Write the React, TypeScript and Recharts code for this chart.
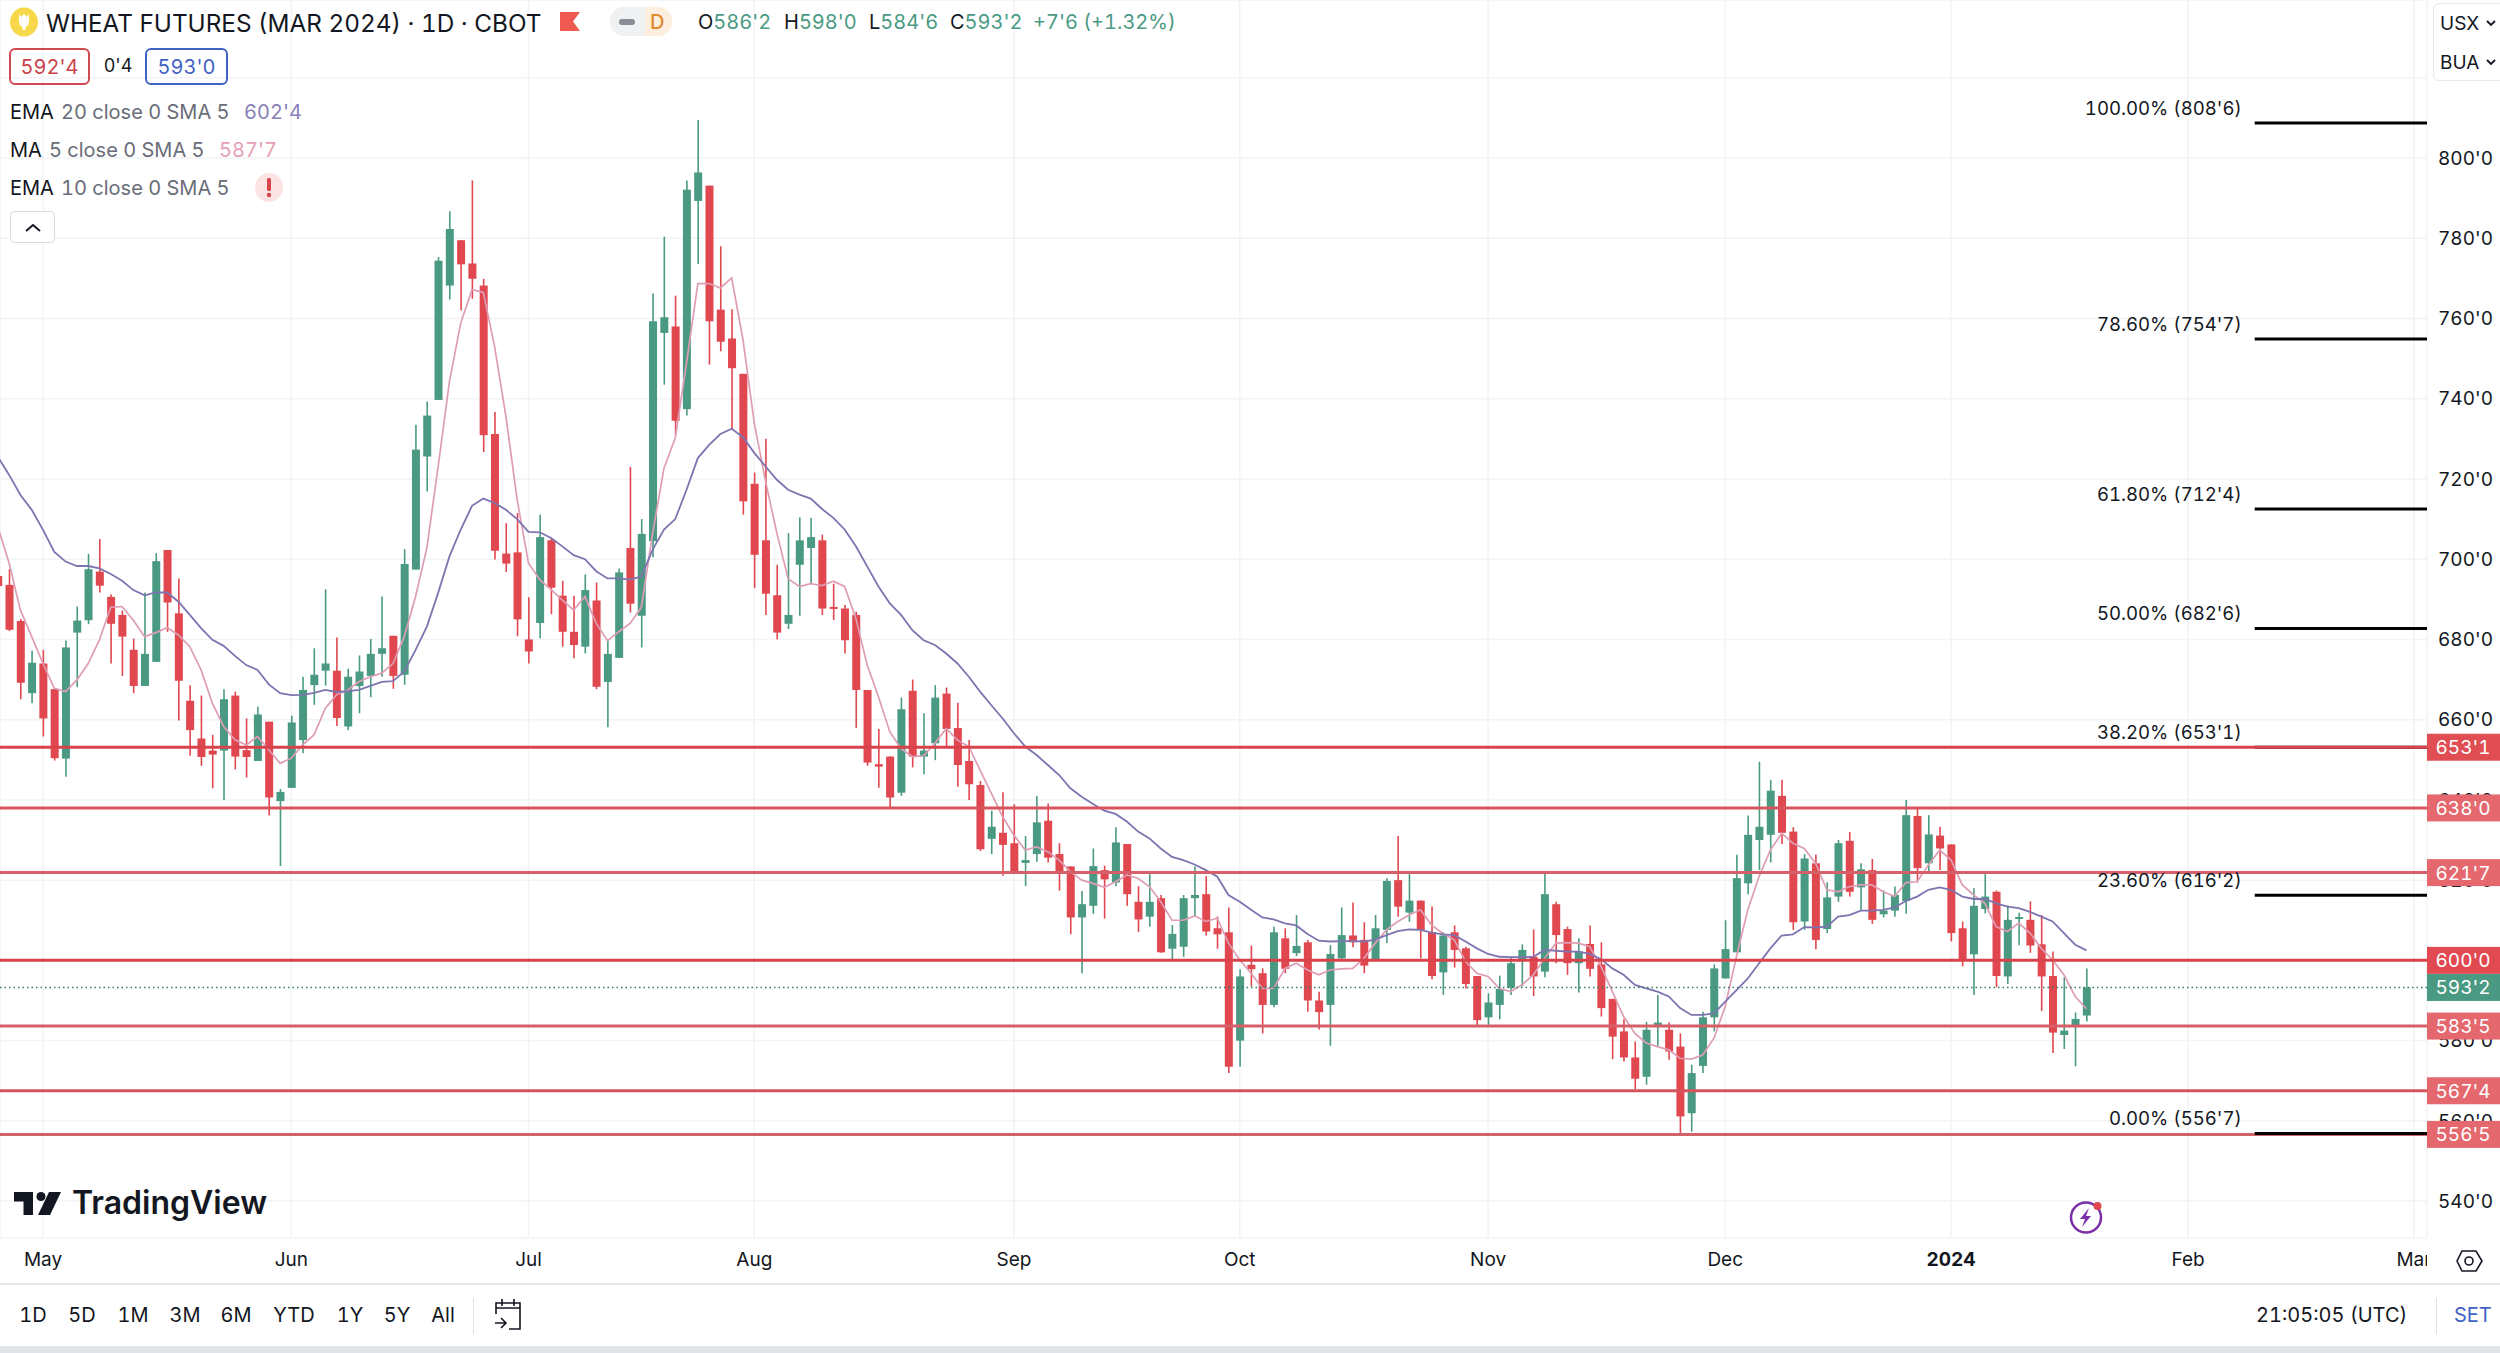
import React from 'react'
import { ComposedChart, Bar, Line, XAxis, YAxis, CartesianGrid, ReferenceLine } from 'recharts'

const FIRST_BAR = -4

const opens = [
  695.8, 693.6, 684.6, 666.6,
  674, 667.6, 650.3, 681.7, 684.8, 696.9, 690.6, 686.1, 677.4, 668.4,
  674.4, 702.3, 686.5, 664.7, 655.3, 652.3, 652.3, 666, 652.4, 649.7,
  659.5, 639.7, 643, 654.9, 668.6, 672.2, 672.2, 658.3, 668.4, 670.9,
  676.4, 680.9, 671.2, 697.4, 725.6, 739.7, 768.2, 779.5, 773.7, 768.2,
  731.2, 701.4, 701.7, 680, 684.1, 704.7, 690.9, 681.9, 678.2, 689.7,
  669.4, 675.4, 702.8, 685.9, 704.5, 756.4, 758, 737.4, 789.3, 793.1,
  762.2, 755, 746.2, 718.8, 704.7, 691, 683.9, 698.6, 702.8, 704.7,
  688.1, 687.7, 686.1, 667.4, 648.9, 650.8, 641.8, 667.2, 650.8, 654.1,
  666.5, 657.9, 649.7, 643.7, 630.3, 631.8, 629.2, 624.3, 626.5, 634.8,
  626.5, 623.4, 610.7, 613.6, 622.5, 619.4, 629, 614.6, 610.9, 615.5,
  602.9, 603.4, 615.5, 616.5, 608, 607, 580, 598.9, 596.8, 588.9,
  605.5, 601.8, 604.5, 590, 588.9, 600.5, 606.2, 605.1, 600.1, 607.6,
  620, 611.9, 614.9, 607, 597, 607, 603, 596.1, 585.8, 588.9,
  593.2, 600.1, 600.9, 597.2, 614, 607.8, 599.3, 604.1, 599, 590.4,
  582.3, 575.8, 571, 583.9, 582.7, 578.5, 561.9, 573.7, 585.8, 595.5,
  602, 619.2, 630, 631.3, 641, 632.1, 609.7, 624.2, 607.8, 615.9,
  629.8, 618.2, 622.5, 611.5, 612.4, 614.8, 636, 624.2, 631.1, 628.9,
  608, 601.5, 612.8, 617.1, 596, 610.3, 610.1, 604, 596.1, 581.4,
  583.5, 586.25,
]

const highs = [
  697, 697.5, 685.1, 677.2,
  677.4, 667.8, 679.7, 688.2, 701.3, 705, 691.2, 687.2, 680.2, 691.7,
  701.5, 702.3, 695.2, 668.6, 666, 656.2, 667.6, 667, 660.3, 663.2,
  659.5, 642.7, 661, 670.7, 677.8, 692.5, 680.5, 672.7, 676, 680.1,
  690.7, 680.9, 702.5, 733.5, 739.3, 775.3, 786.7, 779.5, 794.4, 769.9,
  736.7, 709, 711.5, 690.5, 711.1, 705.3, 694.6, 690.9, 696.2, 694.2,
  679.9, 697.7, 723, 710, 766.2, 780.4, 765.7, 794.4, 809.5, 793.1,
  778, 762.3, 746.2, 721.6, 730, 698.6, 706.5, 710.4, 710.3, 706.1,
  693.9, 688.6, 686.9, 667.4, 657.7, 650.9, 665.5, 670, 661.6, 668.6,
  668, 664.2, 654.9, 644.7, 637.3, 641.9, 638.9, 631, 641, 639.1,
  629.2, 623.4, 617.3, 627.9, 623.6, 633.2, 629, 618.5, 621.5, 616.3,
  608.8, 616.3, 623.4, 621, 610.9, 613.2, 597.8, 603.7, 598, 608.4,
  608, 611.3, 605.1, 592.2, 603.8, 613.2, 614.4, 609.5, 611.3, 620.5,
  631, 621.5, 614.9, 613.4, 607, 608.7, 603.4, 596.1, 591.8, 596.2,
  600.9, 604, 607.7, 621.9, 614.6, 608.4, 605.5, 608.7, 604.5, 590.4,
  585.3, 579.8, 584.7, 591.4, 584.5, 581.8, 574, 587.2, 599, 610,
  626.3, 636.1, 649.5, 645, 645, 633.2, 626.5, 626.4, 619.5, 630,
  632, 624.2, 625.3, 617.4, 618.4, 640, 637.9, 636.2, 633.3, 628.9,
  609.7, 618, 621.5, 617.4, 613.7, 611.9, 614.7, 611.3, 602.2, 595.8,
  587, 598,
]

const lows = [
  692, 682.1, 665.1, 664.1,
  655.8, 649.8, 645.8, 668.1, 683.8, 691.7, 674, 670.9, 666.6, 668.4,
  674.4, 681.9, 659.8, 651, 648.5, 642.9, 640, 647.6, 645.6, 649.7,
  636.1, 623.5, 643, 651.6, 663.7, 668.5, 658.4, 657.4, 661.6, 665.6,
  670.7, 667.7, 668.7, 697.4, 716.9, 739.7, 764.7, 762, 764.9, 726.7,
  699.9, 696.8, 680.8, 674, 680.3, 686.3, 678.2, 675.3, 676.5, 667.6,
  658.1, 675.4, 686.7, 678, 700.5, 743.5, 731, 735.8, 773.6, 748.5,
  751.8, 732.3, 711.1, 692.8, 686.1, 680, 682.6, 685.9, 693.9, 686.1,
  684.8, 676.5, 657.9, 648.5, 643, 638.1, 641, 648.1, 646.4, 649.9,
  653.3, 643.3, 640, 627.3, 626.5, 621.1, 621.7, 618.5, 624.6, 624.4,
  617.4, 606.5, 596.8, 611.6, 610.4, 618.5, 613.6, 607.1, 608.4, 601.9,
  600.3, 600.9, 610.9, 606.2, 602.9, 571.9, 573.5, 593.5, 581.8, 588.3,
  596.8, 601.1, 587.2, 582.8, 578.7, 599.9, 603.3, 596.8, 600.1, 604.3,
  610.9, 609.6, 600.5, 595.3, 591.4, 598.2, 593, 583.5, 583.5, 585.3,
  591.4, 593.5, 591.1, 595.8, 599.3, 596.4, 592, 596, 586, 575.4,
  574.8, 567.9, 569, 578.7, 575.2, 556.8, 557.3, 571.9, 582.3, 595.5,
  602, 616.5, 622.5, 624.4, 629, 607.6, 607.6, 602.8, 606.8, 614.6,
  615.9, 612.6, 609.1, 610.7, 610.9, 611.6, 619.4, 621.7, 622.5, 604.7,
  598.5, 591.4, 611.7, 593.3, 594.1, 603.8, 601.9, 587.4, 576.9, 577.9,
  573.6, 584.75,
]

const closes = [
  693.3, 682.4, 669.2, 674.2,
  660.3, 650.4, 678, 684.7, 697.5, 693.4, 683.9, 680.7, 668.4, 676.4,
  699.5, 689.2, 669.7, 657.4, 650.7, 651.3, 665.1, 650.8, 650.7, 661.3,
  640.6, 642, 659.3, 667.4, 671.2, 674, 660.4, 670.7, 672, 676.4,
  677.8, 670.9, 698.8, 727.3, 735.8, 774.4, 782.3, 773.5, 769.9, 730.9,
  702.1, 698.9, 685, 677, 705.5, 692.9, 681.9, 678.6, 692.3, 668.2,
  676.4, 696.7, 688.9, 706.3, 759.3, 760.3, 734.5, 792.1, 796.4, 759.3,
  754.2, 747.6, 714.4, 701.1, 691.4, 681.7, 686.1, 704.7, 705.5, 687.7,
  687.9, 679.8, 667.4, 649.3, 648.3, 640.6, 662.6, 650.8, 652.3, 665.5,
  657.7, 648.7, 643.9, 627.7, 633.3, 628.8, 621.7, 625, 634.4, 625.6,
  621.7, 610.7, 614, 623.5, 620.2, 629.4, 616.5, 610.2, 614.6, 602,
  606.6, 615.5, 616.3, 607.2, 606.5, 573.5, 596, 597.8, 588.9, 607,
  597.9, 603.6, 590, 587.1, 601.6, 606.3, 604.5, 598.7, 608, 619.8,
  613.4, 614.9, 607.6, 596.1, 606.2, 602.6, 594.1, 585.1, 589.5, 592.9,
  599.3, 602.6, 596, 616.5, 606.3, 599.3, 602.2, 597.9, 588.1, 581,
  575.8, 570.5, 582.7, 584.5, 577.3, 561.1, 571.9, 585.8, 598, 602.8,
  620.5, 631.3, 633.3, 642.3, 631.8, 609.5, 625.4, 605.1, 615.7, 629.2,
  617.1, 622.7, 610.1, 612.4, 616.3, 636.2, 623, 631.4, 627.9, 606.8,
  600, 613.6, 615.9, 596.1, 610.1, 610.8, 603.7, 596, 582, 582.5,
  585.4, 593.25,
]

const ema20 = [
  725.5, 721, 716, 712.3,
  707.3, 701.8, 699.4, 698.3, 698.3, 697.7, 696.3, 694.6, 692.3, 691,
  691.7, 691.7, 689.4, 686.1, 682.8, 679.9, 678.4, 675.9, 673.6, 672.4,
  668.8, 666.6, 666.1, 666.2, 666.7, 667.4, 666.9, 667.1, 667.4, 668.4,
  669.4, 669.6, 672, 677.4, 683.2, 691.6, 700.7, 707.4, 713.3, 715.1,
  714, 712.3, 710, 706.8, 706.7, 705.3, 703.2, 701, 700, 697,
  695.2, 695.2, 694.9, 695.7, 702.4, 707.4, 710, 717.3, 725.2, 728.5,
  731.2, 732.5, 730.4, 726.5, 723.1, 719.8, 717.3, 716.1, 715.1, 712.5,
  710.3, 707.4, 703.2, 698.2, 693.2, 689, 686.1, 682.3, 679.8, 678.6,
  676.5, 674, 670.7, 667, 663.6, 660.3, 656.6, 653.3, 651.2, 648.7,
  646.2, 642.9, 640.8, 639, 637.3, 636.5, 634.6, 632.1, 630.4, 627.9,
  625.8, 625, 623.9, 622.5, 620.9, 616.3, 614.6, 612.6, 610.7, 610.2,
  609.2, 608.7, 606.6, 604.9, 604.7, 604.8, 604.8, 604.7, 605.2, 606.3,
  607.3, 607.7, 607.6, 606.9, 606.5, 606.3, 604.7, 603, 601.6, 600.9,
  600.8, 600.8, 600.9, 602.6, 602.4, 602.2, 602.2, 601.6, 600.3, 598,
  596.4, 593.9, 593, 592.2, 591, 588.1, 586.4, 586.4, 586.8, 589.7,
  592.6, 595.5, 599.3, 603, 606.2, 606.5, 608.3, 608.2, 608.4, 610.9,
  611.3, 612.4, 612.4, 612.6, 613.2, 614.8, 615.9, 617.6, 618.2, 617.6,
  615.9, 615.3, 615.3, 614.2, 613.4, 613, 612.1, 610.9, 609.7, 606.8,
  603.9, 602.5,
]

const ma5 = [
  708, 699, 687.3, 680.7,
  674, 667.8, 667, 669.9, 674, 679.9, 688, 688.2, 684.8, 680.7,
  681.7, 682.9, 681.1, 678.2, 672.4, 664.1, 658.3, 655, 653.7, 655.8,
  652.5, 649.1, 650.4, 653.7, 656.2, 662.8, 666.2, 667.4, 669.5, 670.7,
  671.6, 674, 680.7, 690.7, 702.8, 723.1, 744.3, 758.9, 767.2, 766.5,
  753, 735.6, 714.8, 699, 694.9, 692.4, 689.8, 687.3, 690.7, 684,
  679.7, 681.9, 684, 688, 706.5, 722.7, 730.2, 748.9, 768.7, 768.7,
  767.6, 770.1, 754.7, 733.9, 719.4, 706.5, 695.1, 693.2, 693.9, 693.4,
  694.5, 693.2, 685.2, 673.6, 665.7, 657, 652.8, 650.8, 651, 654.1,
  657.8, 654.9, 653.3, 647.4, 641.6, 635.8, 631.2, 627.5, 628.3, 627.1,
  625, 622.1, 620, 619.2, 618.2, 619.6, 621.3, 620.4, 618.4, 614.6,
  610, 610, 611.1, 609.7, 610.5, 604.3, 600.1, 596.8, 593, 593,
  598, 599.3, 597.6, 596.4, 597.6, 597.9, 598, 600.5, 604.3, 607.6,
  609.7, 611.3, 612.6, 608.8, 606.7, 605.1, 599.7, 596.8, 596, 593,
  592.2, 593.9, 596.4, 600.5, 604.3, 604.4, 604.3, 603.4, 598.5, 592.2,
  586, 581.8, 579.4, 578.5, 577.7, 575.6, 575.4, 576.4, 580.6, 588.5,
  601, 612.6, 620.9, 627.5, 631.7, 629.2, 627.9, 624.2, 617.6, 617.1,
  618.4, 618.8, 618.8, 617.1, 615.9, 619.4, 619.6, 623.8, 627.5, 625,
  618.8, 616.3, 614.2, 608.4, 607.2, 609.3, 606.8, 603, 600.1, 596.4,
  591, 587.9,
]

const priceTicks = [540, 560, 580, 600, 620, 640, 660, 680, 700, 720, 740, 760, 780, 800, 820]
const monthTicks = [0, 22, 43, 63, 86, 106, 128, 149, 169, 190, 210]
const monthLabels = ['May', 'Jun', 'Jul', 'Aug', 'Sep', 'Oct', 'Nov', 'Dec', '2024', 'Feb', 'Mar']

// horizontal drawings
const levelPrices = [653.125, 638, 621.875, 600, 583.625, 567.5, 556.625]
const levelTexts = ["653'1", "638'0", "621'7", "600'0", "583'5", "567'4", "556'5"]
const levelLines = ['#d8434b', '#d8555d', '#d5606a', '#d8434b', '#d5606a', '#d5545c', '#d2626a']
const levelTags = ['#e04e54', '#e4686e', '#e4686e', '#e04a50', '#e4686e', '#e4686e', '#e4686e']

const fibPrices = [808.75, 754.875, 712.5, 682.75, 653.125, 616.25, 556.875]
const fibTexts = [
  "100.00% (808'6)",
  "78.60% (754'7)",
  "61.80% (712'4)",
  "50.00% (682'6)",
  "38.20% (653'1)",
  "23.60% (616'2)",
  "0.00% (556'7)",
]

const lastPrice = 593.25
const lastPriceText = "593'2"

const rangeButtons = ['1D', '5D', '1M', '3M', '6M', 'YTD', '1Y', '5Y', 'All']
const rangeCenters = [33, 82, 133, 185, 236, 294, 350, 397, 443]

const rows = opens.map((open, n) => ({
  bar: n + FIRST_BAR,
  open,
  high: highs[n],
  low: lows[n],
  close: closes[n],
  ema20: ema20[n],
  ma5: ma5[n],
}))

const UP = '#4a9a83'
const DOWN = '#e0474e'
const INK = '#131722'
const FONT = 'Inter, sans-serif'

const X_DOMAIN: [number, number] = [-3.81, 211.16]
const Y_DOMAIN: [number, number] = [530.8, 839.38]
const FIB_START = 195.9

function formatPrice(v: number) {
  if (v === 820) return '' // sits behind the currency box
  const whole = Math.floor(v)
  return `${whole}'${Math.round((v - whole) * 8)}`
}

function Candle(props: any) {
  const { x, y, width, height, payload } = props
  const { open, close, high, low } = payload
  const perUnit = height / (high - low)
  const top = y + (high - Math.max(open, close)) * perUnit
  const bodyH = Math.max(Math.abs(open - close) * perUnit, 2)
  const color = close >= open ? UP : DOWN
  const cx = x + width / 2
  return (
    <g>
      <line x1={cx} x2={cx} y1={y} y2={y + height} stroke={color} strokeWidth={1.6} />
      <rect x={x} y={top} width={width} height={bodyH} fill={color} />
    </g>
  )
}

function MonthTick({ x, y, payload }: any) {
  const text = monthLabels[monthTicks.indexOf(payload.value)]
  return (
    <text
      x={x}
      y={y + 20}
      textAnchor="middle"
      fontFamily={FONT}
      fontSize={19}
      fontWeight={text === '2024' ? 700 : 400}
      fill={INK}
    >
      {text}
    </text>
  )
}

function PriceTag({ viewBox, text, fill }: any) {
  const left = viewBox.x + viewBox.width
  return (
    <g>
      <rect x={left} y={viewBox.y - 13.5} width={73} height={27} fill={fill} />
      <text
        x={left + 36}
        y={viewBox.y + 7}
        textAnchor="middle"
        fontFamily={FONT}
        fontSize={19}
        fill="#fff"
      >
        {text}
      </text>
    </g>
  )
}

function FibLabel({ viewBox, text }: any) {
  return (
    <text
      x={viewBox.x - 13}
      y={viewBox.y - 8}
      textAnchor="end"
      fontFamily={FONT}
      fontSize={18.6}
      fill={INK}
    >
      {text}
    </text>
  )
}

function T({ x, y, size = 20, color = INK, weight = 400, children }: any) {
  return (
    <span
      style={{
        position: 'absolute',
        left: x,
        top: y,
        transform: 'translateY(-50%)',
        fontFamily: FONT,
        fontSize: size,
        fontWeight: weight,
        color,
        lineHeight: 1,
        whiteSpace: 'nowrap',
      }}
    >
      {children}
    </span>
  )
}

function C({ x, y, size = 20, color = INK, children }: any) {
  return (
    <span
      style={{
        position: 'absolute',
        left: x,
        top: y,
        transform: 'translate(-50%, -50%)',
        fontFamily: FONT,
        fontSize: size,
        color,
        lineHeight: 1,
        whiteSpace: 'nowrap',
      }}
    >
      {children}
    </span>
  )
}

function Header() {
  const GREY = '#6a6d78'
  return (
    <>
      <svg style={{ position: 'absolute', left: 0, top: 0 }} width={700} height={40}>
        <ellipse cx={24} cy={22} rx={14} ry={14.5} fill="#f7d84a" />
        <path d="M19 14l2 3 3-3 3 3 2-3v8c0 3-2 4-3.5 5v3h-3v-3c-1.500-1-3.500-2-3.500-5z" fill="#fff" />
        <path d="M560 12h20l-7 9.500 7 9.500h-20z" fill="#ef5a50" />
        <rect x={610} y={7} width={62} height={29} rx={14} fill="#f0f1f3" />
        <path d="M645 7h13a14 14 0 0 1 14 14.500a14 14 0 0 1-14 14.500h-13z" fill="#fdeedd" />
        <rect x={619} y={19} width={16} height={6} rx={3} fill="#8a8d96" />
      </svg>
      <T x={46} y={23} size={24.3}>WHEAT FUTURES (MAR 2024) · 1D · CBOT</T>
      <T x={650} y={22} size={20} color="#e08a2e" weight={500}>D</T>

      <T x={698} y={22} size={20}>O<span style={{ color: UP }}>586'2</span></T>
      <T x={784} y={22} size={20}>H<span style={{ color: UP }}>598'0</span></T>
      <T x={869} y={22} size={20}>L<span style={{ color: UP }}>584'6</span></T>
      <T x={950} y={22} size={20}>C<span style={{ color: UP }}>593'2</span></T>
      <T x={1033} y={22} size={20} color={UP}>+7'6 (+1.32%)</T>

      <div style={{ position: 'absolute', left: 9, top: 48, width: 81, height: 37, boxSizing: 'border-box', border: '2px solid #cf4a50', borderRadius: 6 }} />
      <C x={49.500} y={67} color="#c9424a">592'4</C>
      <C x={118} y={66} size={18}>0'4</C>
      <div style={{ position: 'absolute', left: 145, top: 48, width: 83, height: 37, boxSizing: 'border-box', border: '2px solid #3f62c4', borderRadius: 6 }} />
      <C x={186.500} y={67} color="#3f62c4">593'0</C>

      <T x={10} y={112}>EMA</T>
      <T x={61} y={112} color={GREY}>20 close 0 SMA 5</T>
      <T x={244} y={112} color="#8a80b8">602'4</T>
      <T x={10} y={150}>MA</T>
      <T x={49} y={150} color={GREY}>5 close 0 SMA 5</T>
      <T x={219} y={150} color="#e6a0b6">587'7</T>
      <T x={10} y={188}>EMA</T>
      <T x={61} y={188} color={GREY}>10 close 0 SMA 5</T>

      <svg style={{ position: 'absolute', left: 0, top: 160 }} width={300} height={90}>
        <ellipse cx={269} cy={27.500} rx={14} ry={14.500} fill="#fbe3e4" />
        <rect x={267} y={18} width={4} height={13} rx={1.500} fill="#d9434b" />
        <circle cx={269} cy={35} r={2.200} fill="#d9434b" />
        <rect x={10.500} y={51.500} width={44} height={31} rx={4} fill="#fff" stroke="#d8dade" />
        <path d="M26 71l7-6 7 6" fill="none" stroke={INK} strokeWidth={2} />
      </svg>

      <div style={{ position: 'absolute', left: 2433, top: 3, width: 90, height: 78, boxSizing: 'border-box', background: '#fff', border: '1px solid #e6e7ea', borderRadius: 6 }} />
      <T x={2440} y={23} size={19}>USX</T>
      <T x={2440} y={62} size={19}>BUA</T>
      <svg style={{ position: 'absolute', left: 2480, top: 0 }} width={20} height={80}>
        <path d="M7 21l4 4 4-4M7 60l4 4 4-4" fill="none" stroke={INK} strokeWidth={1.800} />
      </svg>
    </>
  )
}

function Footer() {
  return (
    <>
      <svg style={{ position: 'absolute', left: 0, top: 1180 }} width={80} height={50}>
        <path d="M14 12h19v23h-9.500v-13.500h-9.500z" fill="#131722" />
        <circle cx={41} cy={16.500} r={4.500} fill="#131722" />
        <path d="M49 12h12l-11 23h-12z" fill="#131722" />
      </svg>
      <T x={72} y={1203} size={32} weight={600}>TradingView</T>

      <svg style={{ position: 'absolute', left: 2060, top: 1190 }} width={60} height={60}>
        <circle cx={26} cy={27.500} r={15} fill="none" stroke="#7b2fa8" strokeWidth={2.500} />
        <path d="M29 18l-9 11h5l-3 8 9-11h-5z" fill="#7b2fa8" />
        <circle cx={37.500} cy={16} r={4} fill="#e0474e" />
      </svg>

      {/* corner of the time scale */}
      <div style={{ position: 'absolute', left: 2427, top: 1240, width: 73, height: 43, background: '#fff' }} />
      <svg style={{ position: 'absolute', left: 2455, top: 1247 }} width={30} height={30}>
        <path d="M7 4h14l6 10-6 10H7L2 14z" fill="none" stroke={INK} strokeWidth={1.600} />
        <circle cx={14} cy={14} r={4} fill="none" stroke={INK} strokeWidth={1.600} />
      </svg>

      <div style={{ position: 'absolute', left: 0, top: 1283, width: 2500, height: 2, background: '#e6e7ea' }} />
      {rangeButtons.map((b, n) => (
        <C key={b} x={rangeCenters[n]} y={1315}>{b}</C>
      ))}
      <div style={{ position: 'absolute', left: 473, top: 1298, width: 1, height: 36, background: '#e0e2e6' }} />
      <svg style={{ position: 'absolute', left: 490, top: 1295 }} width={40} height={40}>
        <path d="M6 19v-11h24v26h-11M6 13h24M12 4v7M24 4v7" fill="none" stroke={INK} strokeWidth={1.600} />
        <path d="M5 28h11M11 23l5 5-5 5" fill="none" stroke={INK} strokeWidth={1.600} />
      </svg>
      <T x={2256} y={1315}>21:05:05 (UTC)</T>
      <div style={{ position: 'absolute', left: 2436, top: 1298, width: 1, height: 36, background: '#e0e2e6' }} />
      <T x={2454} y={1315} color="#3f62c4">SET</T>
      <div style={{ position: 'absolute', left: 0, top: 1346, width: 2500, height: 7, background: '#e0e3e8' }} />
    </>
  )
}

// second transparent chart over the first, so the price tags cover the axis labels
function Drawings() {
  const fibLine = (n: number) => (
    <ReferenceLine
      key={fibTexts[n]}
      segment={[
        { x: FIB_START, y: fibPrices[n] },
        { x: X_DOMAIN[1], y: fibPrices[n] },
      ]}
      stroke="#000"
      strokeWidth={3}
      label={<FibLabel text={fibTexts[n]} />}
    />
  )
  const indexes = fibPrices.map((_, n) => n)
  return (
    <div style={{ position: 'absolute', left: 0, top: 0 }}>
      <ComposedChart
        width={2500}
        height={1353}
        data={rows}
        margin={{ top: 0, right: 73, bottom: 115, left: 0 }}
      >
        <XAxis hide dataKey="bar" type="number" domain={X_DOMAIN} allowDataOverflow />
        <YAxis hide domain={Y_DOMAIN} allowDataOverflow />
        <ReferenceLine
          y={lastPrice}
          stroke="#2e7d68"
          strokeWidth={1.500}
          strokeDasharray="1.500 3"
          label={<PriceTag text={lastPriceText} fill={UP} />}
        />
        {indexes.filter(n => fibTexts[n].startsWith('38')).map(fibLine)}
        {levelPrices.map((p, n) => (
          <ReferenceLine
            key={levelTexts[n]}
            y={p}
            stroke={levelLines[n]}
            strokeWidth={3}
            label={<PriceTag text={levelTexts[n]} fill={levelTags[n]} />}
          />
        ))}
        {indexes.filter(n => !fibTexts[n].startsWith('38')).map(fibLine)}
      </ComposedChart>
    </div>
  )
}

export default function App() {
  return (
    <div
      style={{
        position: 'absolute',
        left: 0,
        top: 0,
        width: 2500,
        height: 1353,
        background: '#fff',
        overflow: 'hidden',
        fontVariantNumeric: 'tabular-nums',
      }}
    >
      <ComposedChart
        width={2500}
        height={1353}
        data={rows}
        margin={{ top: 0, right: 0, bottom: 0, left: 0 }}
      >
        <CartesianGrid stroke="#f2f3f5" strokeWidth={1.500} />
        <XAxis
          dataKey="bar"
          type="number"
          domain={X_DOMAIN}
          allowDataOverflow
          ticks={monthTicks}
          interval={0}
          height={115}
          axisLine={false}
          tickLine={false}
          tick={<MonthTick />}
        />
        <YAxis
          orientation="right"
          domain={Y_DOMAIN}
          ticks={priceTicks}
          interval={0}
          width={73}
          axisLine={false}
          tickLine={false}
          tickMargin={5}
          tick={{ fill: INK, fontSize: 19, fontFamily: FONT }}
          tickFormatter={formatPrice}
        />
        <Bar
          dataKey={(d: any) => [d.low, d.high]}
          shape={<Candle />}
          barSize={8}
          isAnimationActive={false}
        />
        <Line dataKey="ma5" type="linear" stroke="#de9db4" strokeWidth={1.700} dot={false} isAnimationActive={false} />
        <Line dataKey="ema20" type="linear" stroke="#7d74b0" strokeWidth={1.800} dot={false} isAnimationActive={false} />
      </ComposedChart>
      <Drawings />
      <Header />
      <Footer />
    </div>
  )
}
